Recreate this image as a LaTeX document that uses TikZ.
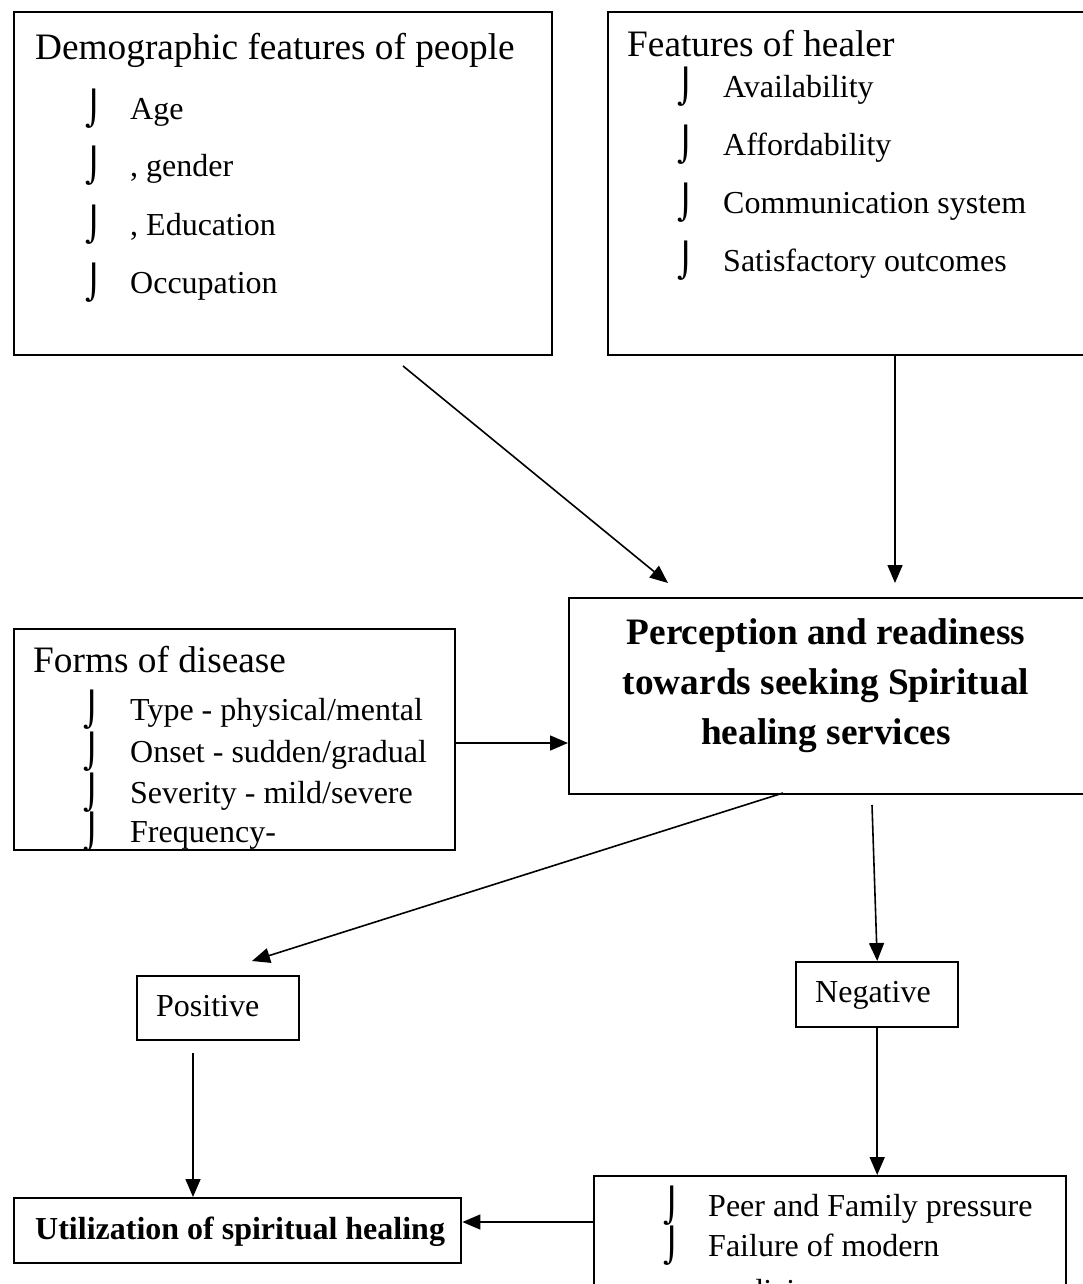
\documentclass[tikz,border=0pt]{standalone}
\usepackage{fontspec}
\setmainfont{Liberation Serif}
\newfontfamily\bulfont{DejaVu Sans}
\usetikzlibrary{arrows.meta}
\tikzset{
  box/.style={draw, line width=2.4pt, inner sep=0pt, anchor=north west},
  arr/.style={line width=1.6pt, -{Triangle[length=18pt,width=15pt]}},
  item/.style={anchor=base west, inner sep=0pt, font=\fontsize{32}{38}\selectfont},
  ttl/.style={anchor=base west, inner sep=0pt, font=\fontsize{37.3}{43}\selectfont},
  bitem/.style={anchor=base west, inner sep=0pt, font=\fontsize{32}{38}\selectfont\bfseries},
  btl/.style={anchor=base, inner sep=0pt, font=\fontsize{37.3}{43}\selectfont\bfseries},
  bul/.style={anchor=base west, inner sep=0pt, yshift=-1pt, font=\fontsize{33.5}{38}\selectfont\bulfont}
}
\begin{document}
\begin{tikzpicture}[x=1pt,y=-1pt]
\useasboundingbox (0,0) rectangle (1083,1284);
\clip (0,0) rectangle (1083,1284);
\fill[white] (0,0) rectangle (1083,1284);
% boxes
\node[box, minimum width=538pt, minimum height=343pt] (demo) at (13,11) {};
\node[box, minimum width=500pt, minimum height=343pt] (heal) at (607,11) {};
\node[box, minimum width=540pt, minimum height=196pt] (perc) at (568,597) {};
\node[box, minimum width=441pt, minimum height=221pt] (forms) at (13,628) {};
\node[box, minimum width=162pt, minimum height=64pt] (pos) at (136,975) {};
\node[box, minimum width=162pt, minimum height=65pt] (neg) at (795,961) {};
\node[box, minimum width=447pt, minimum height=65pt] (util) at (13,1197) {};
\node[box, minimum width=472pt, minimum height=150pt] (press) at (593,1175) {};
% demographic
\node[ttl] (demot) at (35,60) {Demographic features of people};
\node[bul] (db1) at (85,120) {⌡};
\node[item] (d1) at (130,120) {Age};
\node[bul] (db2) at (85,177) {⌡};
\node[item] (d2) at (130,177) {, gender};
\node[bul] (db3) at (85,235) {⌡};
\node[item] (d3) at (130,235) {, Education};
\node[bul] (db4) at (85,293) {⌡};
\node[item] (d4) at (130,293) {Occupation};
% healer
\node[ttl] (healt) at (627,57) {Features of healer};
\node[bul] (hb1) at (677,98) {⌡};
\node[item] (h1) at (723,98) {Availability};
\node[bul] (hb2) at (677,156) {⌡};
\node[item] (h2) at (723,156) {Affordability};
\node[bul] (hb3) at (677,213) {⌡};
\node[item] (h3) at (723,213) {Communication system};
\node[bul] (hb4) at (677,271) {⌡};
\node[item] (h4) at (723,271) {Satisfactory outcomes};
% perception
\node[btl] (pl1) at (826,644) {Perception and readiness};
\node[btl] (pl2) at (826,694) {towards seeking Spiritual};
\node[btl] (pl3) at (826,744) {healing services};
% forms
\node[ttl] (formt) at (33,672) {Forms of disease};
\node[bul] (fb1) at (83,720) {⌡};
\node[item] (f1) at (130,720) {Type - physical/mental};
\node[bul] (fb2) at (83,762) {⌡};
\node[item] (f2) at (130,762) {Onset - sudden/gradual};
\node[bul] (fb3) at (83,803) {⌡};
\node[item] (f3) at (130,803) {Severity - mild/severe};
\node[bul] (fb4) at (83,842) {⌡};
\node[item] (f4) at (130,842) {Frequency-};
% small boxes
\node[item] (post) at (156,1016) {Positive};
\node[item] (negt) at (815,1002) {Negative};
\node[bitem] (utilt) at (35,1239) {Utilization of spiritual healing};
\node[bul] (pb1) at (663,1216) {⌡};
\node[item] (p1) at (708,1216) {Peer and Family pressure};
\node[bul] (pb2) at (663,1256) {⌡};
\node[item] (p2) at (708,1256) {Failure of modern};
\node[item] (p3) at (708,1301) {medicine};
% connector points
\coordinate (a1s) at (403,366);
\coordinate (a1e) at (668,583);
\coordinate (a2e) at (895,583);
\coordinate (a3y) at (0,743);
\coordinate (a4s) at (783,793);
\coordinate (a4e) at (252,961);
\coordinate (a5s) at (872,805);
\coordinate (a6s) at (193,1053);
\coordinate (a8y) at (0,1222);
% connectors
\draw[arr] (a1s) -- (a1e);
\draw[arr] (heal.south -| a2e) -- (a2e);
\draw[arr] (forms.east |- a3y) -- (perc.west |- a3y);
\draw[arr] (a4s) -- (a4e);
\draw[arr] (a5s) -- (neg.north);
\draw[arr] (a6s) -- (util.north -| a6s);
\draw[arr] (neg.south) -- (press.north -| neg.south);
\draw[arr] (press.west |- a8y) -- (util.east |- a8y);
\end{tikzpicture}
\end{document}
